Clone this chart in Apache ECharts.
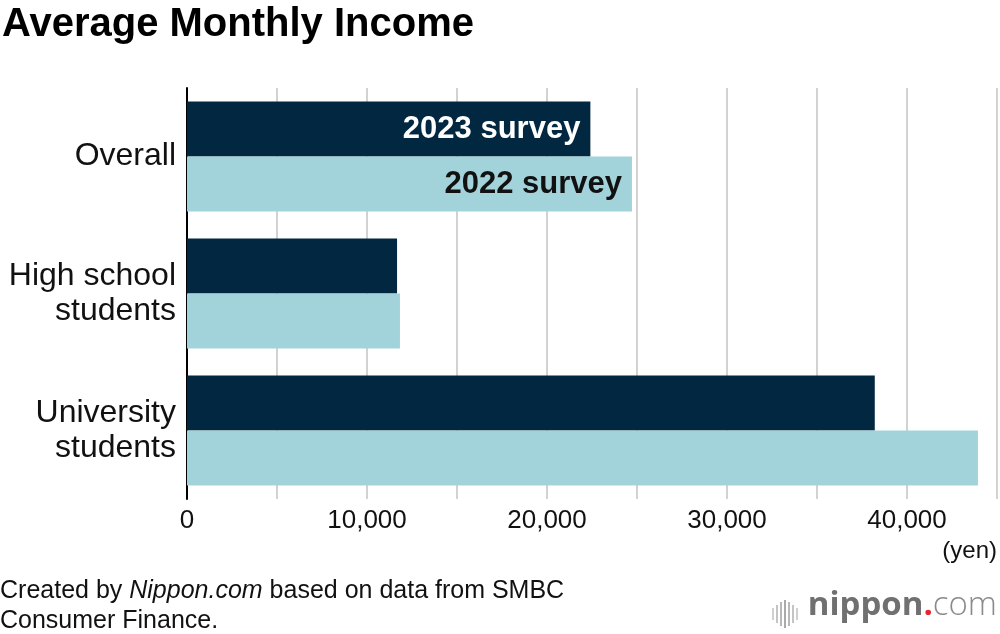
<!DOCTYPE html>
<html><head><meta charset="utf-8">
<script src="https://cdn.jsdelivr.net/npm/echarts@6/dist/echarts.min.js"></script>
<style>html,body{margin:0;padding:0;background:#fff}#c{width:1000px;height:634px}</style>
</head><body><div id="c"></div>
<script>
var categories = ['Overall', 'High school\nstudents', 'University\nstudents'];
var seriesNames = ['2023 survey', '2022 survey'];
var values2023 = [22410, 11670, 38210];
var values2022 = [24720, 11830, 43940];
var xTicks = [0, 10000, 20000, 30000, 40000];

var F = '"Liberation Sans", Arial, Helvetica, sans-serif';
function mkData(vals, color) {
  return vals.map(function (v, i) {
    return i === 0 ? { value: v, label: { show: true, color: color } } : v;
  });
}
var chart = echarts.init(document.getElementById('c'));
chart.setOption({
  animation: false,
  textStyle: { fontFamily: F },
  grid: { left: 187, right: 3, top: 88, height: 411 },
  xAxis: {
    type: 'value', min: 0, max: 45000, interval: 5000,
    axisLine: { show: false }, axisTick: { show: false },
    splitLine: { show: true, lineStyle: { color: '#d2d2d2', width: 2 } },
    axisLabel: {
      fontSize: 26, color: '#111', fontFamily: F, margin: 9,
      formatter: function (v) { return xTicks.indexOf(v) >= 0 ? v.toLocaleString('en-US') : ''; }
    }
  },
  yAxis: {
    type: 'category', data: categories, inverse: true,
    axisLine: { show: true, lineStyle: { color: '#000', width: 2 } },
    axisTick: { show: false },
    axisLabel: { fontSize: 32, color: '#111', fontFamily: F, lineHeight: 35, margin: 11, align: 'right', verticalAlign: 'middle', padding: [8, 0, 0, 0] }
  },
  series: [
    { name: seriesNames[0], type: 'bar', barWidth: 55, barGap: '0%',
      itemStyle: { color: '#022841' },
      label: { show: false, position: 'insideRight', distance: 10, formatter: '{a}', fontSize: 31, fontWeight: 'bold', fontFamily: F },
      data: mkData(values2023, '#fff') },
    { name: seriesNames[1], type: 'bar', barWidth: 55, barGap: '0%',
      itemStyle: { color: '#a2d3da' },
      label: { show: false, position: 'insideRight', distance: 10, formatter: '{a}', fontSize: 31, fontWeight: 'bold', fontFamily: F },
      data: mkData(values2022, '#111') }
  ],
  graphic: [
    { type: 'text', left: 2, top: 5, style: { text: 'Average Monthly Income', fontSize: 40, fontWeight: 'bold', fill: '#000', fontFamily: F } },
    { type: 'text', right: 3, top: 539, style: { text: '(yen)', fontSize: 24, fill: '#111', fontFamily: F } },
    { type: 'text', left: 0, top: 576, style: { text: '{n|Created by }{i|Nippon.com}{n| based on data from SMBC}\n{n|Consumer Finance.}', lineHeight: 30,
      rich: { n: { fontSize: 25, fill: '#111', fontFamily: F, lineHeight: 30 }, i: { fontSize: 25, fill: '#111', fontStyle: 'italic', fontFamily: F, lineHeight: 30 } } } },
    { type: 'text', right: 3, top: 589, style: { text: '{a|nippon}{b|.}{c|com}',
      rich: { a: { fontSize: 33, fontWeight: 'bold', fill: '#707070', fontFamily: '"Open Sans", sans-serif' },
              b: { fontSize: 33, fontWeight: 'bold', fill: '#e8262e', fontFamily: '"Open Sans", sans-serif' },
              c: { fontSize: 33, fontWeight: 300, fill: '#8a8a8a', fontFamily: '"Open Sans", sans-serif' } } } },
    { type: 'group', left: 772, top: 600, children: [
      { type: 'rect', shape: { x: 0, y: 8, width: 2, height: 12 }, style: { fill: '#d0d0d0' } },
      { type: 'rect', shape: { x: 4, y: 5, width: 2, height: 18 }, style: { fill: '#c4c4c4' } },
      { type: 'rect', shape: { x: 8, y: 2, width: 2, height: 24 }, style: { fill: '#b8b8b8' } },
      { type: 'rect', shape: { x: 12, y: 0, width: 2, height: 28 }, style: { fill: '#aaaaaa' } },
      { type: 'rect', shape: { x: 16, y: 2, width: 2, height: 24 }, style: { fill: '#b8b8b8' } },
      { type: 'rect', shape: { x: 20, y: 5, width: 2, height: 18 }, style: { fill: '#c4c4c4' } },
      { type: 'rect', shape: { x: 24, y: 8, width: 2, height: 12 }, style: { fill: '#d0d0d0' } }
    ] }
  ]
});
</script></body></html>
